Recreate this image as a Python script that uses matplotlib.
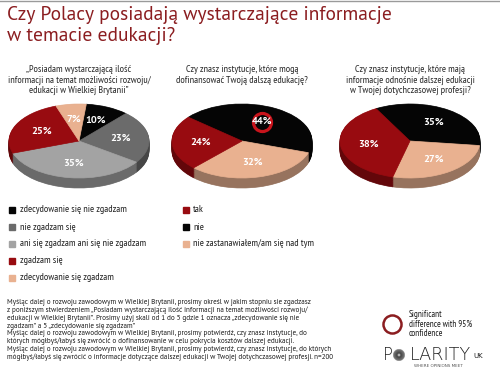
import numpy as np
import matplotlib
matplotlib.use('Agg')
import matplotlib.pyplot as plt
from matplotlib import font_manager
from matplotlib.patches import Rectangle
from matplotlib.lines import Line2D
import matplotlib.colors as mcolors

# --- data ---
labels1 = ['zdecydowanie się nie zgadzam', 'nie zgadzam się',
           'ani się zgadzam ani się nie zgadzam', 'zgadzam się',
           'zdecydowanie się zgadzam']
vals1 = [10, 23, 35, 25, 7]
labels23 = ['tak', 'nie', 'nie zastanawiałem/am się nad tym']
vals2 = [24, 44, 32]   # tak, nie, nie zastanawiałem
vals3 = [38, 35, 27]

titles = ['„Posiadam wystarczającą ilość\ninformacji na temat możliwości rozwoju/\nedukacji w Wielkiej Brytanii”',
          'Czy znasz instytucje, które mogą\ndofinansować Twoją dalszą edukację?',
          'Czy znasz instytucje, które mają\ninformacje odnośnie dalszej edukacji\nw Twojej dotychczasowej profesji?']

footnote = [
    'Myśląc dalej o rozwoju zawodowym w Wielkiej Brytanii, prosimy określ w jakim stopniu sie zgadzasz',
    'z poniższym stwierdzeniem „Posiadam wystarczającą ilość informacji na temat możliwości rozwoju/',
    'edukacji w Wielkiej Brytanii”. Prosimy użyj skali od 1 do 5 gdzie 1 oznacza „zdecydowanie się nie',
    'zgadzam” a 5 „zdecydowanie się zgadzam”',
    'Myśląc dalej o rozwoju zawodowym w Wielkiej Brytanii, prosimy potwierdź, czy znasz instytucje, do',
    'których mógłbyś/łabyś się zwrócić o dofinansowanie w celu pokrycia kosztów dalszej edukacji.',
    'Myśląc dalej o rozwoju zawodowym w Wielkiej Brytanii, prosimy potwierdź, czy znasz instytucje, do których',
    'mógłbyś/łabyś się zwrócić o informacje dotyczące dalszej edukacji w Twojej dotychczasowej profesji. n=200',
]

BLACK = '#050505'
DGRAY = '#6b6b6b'
LGRAY = '#a3a3a3'
RED = '#980b10'
PEACH = '#e9b190'
cols1 = [BLACK, DGRAY, LGRAY, RED, PEACH]
cols23 = [RED, BLACK, PEACH]
TITLE_RED = '#8b1d20'

# only families that come with a regular (400) face
regular = {f.name for f in font_manager.fontManager.ttflist
           if f.weight in (400, 'normal', 'regular', 'book', 'roman') and f.style == 'normal'}


def pick(*cands):
    return next((c for c in cands if c in regular), 'DejaVu Sans')


TFONT = pick('Source Sans Pro', 'Source Sans 3', 'PT Sans', 'Lato')
NARROW = pick('PT Sans Narrow', 'Roboto Condensed', 'Fira Sans Condensed', 'Archivo Narrow',
              'Encode Sans Condensed', 'Asap Condensed', 'IBM Plex Sans Condensed',
              'Ubuntu Condensed', 'Liberation Sans Narrow', 'Source Sans Pro', 'Lato')

W, H = 500, 371
fig = plt.figure(figsize=(5, 3.71), dpi=100)
fig.patch.set_facecolor('white')
renderer = fig.canvas.get_renderer()


def fx(x):
    return x / W


def fy(y):
    return 1 - y / H


def fit(t, width_px):
    w = t.get_window_extent(renderer).width
    t.set_fontsize(t.get_fontsize() * width_px / w)
    return t.get_fontsize()


def darken(c, f=0.65):
    r, g, b = mcolors.to_rgb(c)
    return (r * f, g * f, b * f)


def draw_pie(cx, vals, cols, start, order):
    # order: index order of slices clockwise from start
    v = [vals[i] for i in order]
    c = [cols[i] for i in order]
    rx, ry, ytop, dpx = 70, 37, 104, 10
    dd = dpx / ry
    ax = fig.add_axes([fx(cx - 1.02 * rx), fy(ytop - 0.03 * ry + (2.06 + dd) * ry),
                       2.04 * rx / W, (2.06 + dd) * ry / H])
    n = 14
    for i in range(n, 0, -1):
        ws, _ = ax.pie(v, colors=[darken(x) for x in c], startangle=start, counterclock=False,
                       center=(0, -dd * i / n), radius=1)
        for w in ws:
            w.set_edgecolor(w.get_facecolor())
            w.set_linewidth(0.5)
    ws, _, autos = ax.pie(v, colors=c, startangle=start, counterclock=False,
                          autopct='%.0f%%', pctdistance=0.6,
                          textprops=dict(color='white', fontsize=7.5, fontweight='bold',
                                         family=TFONT))
    for w in ws:
        w.set_edgecolor(w.get_facecolor())
        w.set_linewidth(0.5)
    ax.set_aspect('auto')
    ax.set_xlim(-1.02, 1.02)
    ax.set_ylim(-1 - dd - 0.03, 1.03)
    ax.axis('off')
    return ax, autos


# top rule
fig.add_artist(Line2D([0, 1], [fy(0.5), fy(0.5)], color='#9a9a9a', lw=1))

t1 = fig.text(fx(7), fy(15), 'Czy Polacy posiadają wystarczające informacje',
              color=TITLE_RED, fontsize=15, family=TFONT, va='center', ha='left')
ts = fit(t1, 385)
fig.text(fx(7), fy(36), 'w temacie edukacji?', color=TITLE_RED, fontsize=ts,
         family=TFONT, va='center', ha='left')

# pies
centers = [79, 242, 410]
draw_pie(centers[0], vals1, cols1, 84, [0, 1, 2, 3, 4])
ax2, autos2 = draw_pie(centers[1], vals2, cols23, 140, [1, 2, 0])
draw_pie(centers[2], vals3, cols23, 119, [1, 2, 0])

# significance marker around "nie" in pie 2
px, py = autos2[0].get_position()
ax2.plot([px], [py], 'o', ms=13, mfc='none', mec='#c8141c', mew=2.3)

probe = fig.text(0, 0, titles[0].split('\n')[1], fontsize=7, family=NARROW)
sub_fs = fit(probe, 145)
probe.remove()
for cx, t in zip(centers, titles):
    fig.text(fx(cx), fy(65), t, ha='center', va='top', fontsize=sub_fs, family=NARROW,
             color='#2a2a2a', linespacing=1.15)

# legends
probe = fig.text(0, 0, labels1[0], fontsize=7, family=NARROW)
leg_fs = fit(probe, 109)
probe.remove()
rows = [210, 227, 244, 260.5, 277.5]
for y, lab, c in zip(rows, labels1, cols1):
    fig.add_artist(Rectangle((fx(9), fy(y + 3)), 6 / W, 6 / H, color=c, transform=fig.transFigure))
    fig.text(fx(20), fy(y), lab, fontsize=leg_fs, family=NARROW, va='center', ha='left',
             color='#222222')
for y, lab, c in zip(rows, labels23, cols23):
    fig.add_artist(Rectangle((fx(183), fy(y + 3)), 6 / W, 6 / H, color=c, transform=fig.transFigure))
    fig.text(fx(193), fy(y), lab, fontsize=leg_fs, family=NARROW, va='center', ha='left',
             color='#222222')

# footnote
probe = fig.text(0, 0, footnote[-1], fontsize=6, family=TFONT)
foot_fs = min(fit(probe, 330), 5.6)
probe.remove()
for i, line in enumerate(footnote):
    fig.text(fx(7), fy(303 + i * 7.7), line, fontsize=foot_fs, family=TFONT, va='center',
             ha='left', color='#1a1a1a')

# significance legend
fig.add_artist(Line2D([fx(392)], [fy(324)], marker='o', ms=13, mfc='none', mec=TITLE_RED,
                      mew=1.8, transform=fig.transFigure))
sig = fig.text(fx(409), fy(324), 'Significant\ndifference with 95%\nconfidence', fontsize=5.6,
               family=NARROW, va='center', ha='left', color='#1a1a1a', linespacing=1.1)
fit(sig, 62)

# logo
pt = fig.text(fx(383), fy(355), 'P', fontsize=12, family='DejaVu Sans', va='center', ha='left',
              color='#222222', fontweight='light')
lax = fig.add_axes([fx(393), fy(361), 12 / W, 12 / H])
gx, gy = np.meshgrid(np.linspace(-1, 1, 60), np.linspace(-1, 1, 60))
rr = np.sqrt(gx ** 2 + gy ** 2)
img = np.where(rr > 1, 1.0, 0.15 + 0.35 * rr)
img = np.where(rr < 0.3, 1 - rr * 2.2, img)
lax.imshow(img, cmap='gray', vmin=0, vmax=1, extent=(-1, 1, -1, 1))
lax.axis('off')
lar = fig.text(fx(410), fy(355), 'LARITY', fontsize=11.5, family='DejaVu Sans', va='center',
               ha='left', color='#222222', fontweight='light')
fit(lar, 62)
fig.text(fx(473), fy(356), 'UK', fontsize=5, family='DejaVu Sans', va='center', ha='left',
         color='#222222')
tag = fig.text(fx(438), fy(366), 'WHERE OPINIONS MEET', fontsize=2.5, family='DejaVu Sans',
               va='center', ha='center', color='#555555')
fit(tag, 50)

fig.savefig('out.png', dpi=100)
